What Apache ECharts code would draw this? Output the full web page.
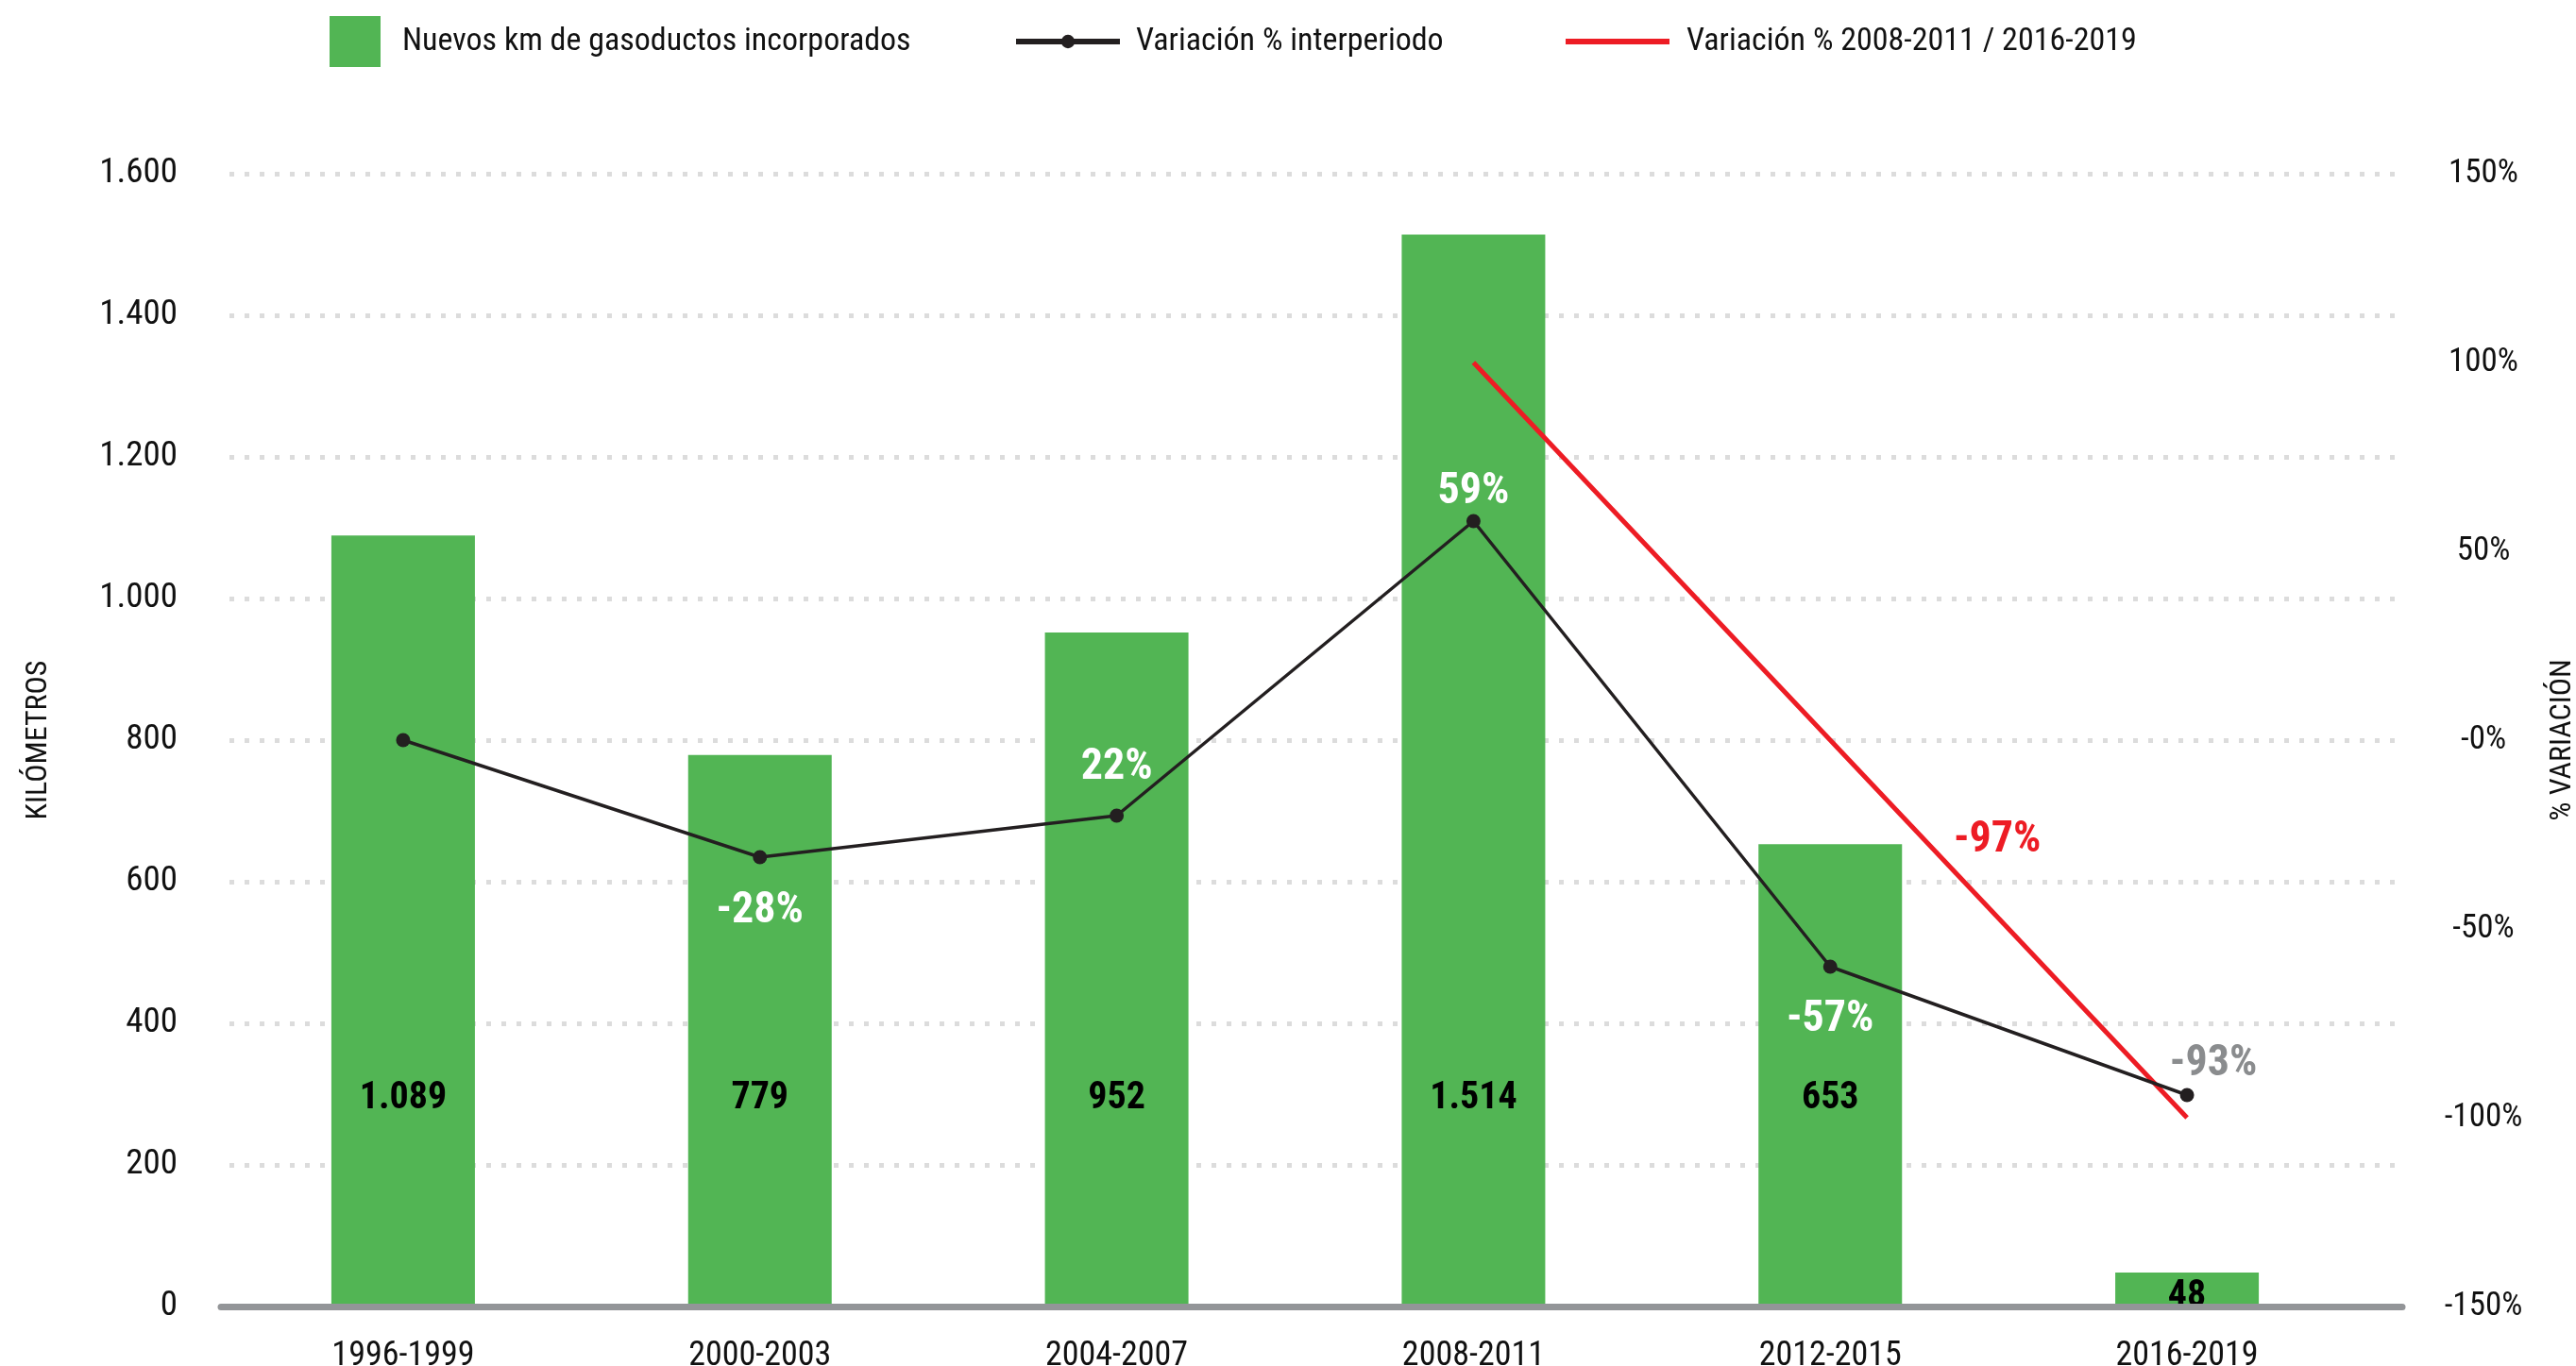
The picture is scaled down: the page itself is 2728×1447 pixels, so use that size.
<!DOCTYPE html>
<html>
<head>
<meta charset="utf-8">
<script src="https://cdn.jsdelivr.net/npm/echarts@6/dist/echarts.min.js"></script>
<style>
html,body{margin:0;padding:0;background:#fff;}
#chart{width:2728px;height:1447px;}
</style>
</head>
<body>
<div id="chart"></div>
<script>
// ---- data ----
const categories = ['1996-1999', '2000-2003', '2004-2007', '2008-2011', '2012-2015', '2016-2019'];
const kmValues = [1089, 779, 952, 1514, 653, 48];
const variationValues = [0, -31, -20, 58, -60, -94];
const variationLabels = ['', '-28%', '22%', '59%', '-57%', '-93%'];
const overallValues = [null, null, null, 100, null, -100];
const overallLabel = '-97%';
const seriesNames = ['Nuevos km de gasoductos incorporados', 'Variación % interperiodo', 'Variación % 2008-2011 / 2016-2019'];
const axisTitles = ['KILÓMETROS', '% VARIACIÓN'];

// ---- styles ----
const FONT = "'Roboto Condensed', 'Liberation Sans Narrow', 'Arial Narrow', 'DejaVu Sans Condensed', Roboto, sans-serif";
const GREEN = '#52b554', BLACK = '#231f20', RED = '#ed1c24', GREY_AXIS = '#939598', GRID = '#dcdcdc';
// per-point label placement for the variation line: [position, distance, offsetX, offsetY, color]
const varLabelPlace = [
  ['top', 10, 0, 0, '#fff'],
  ['bottom', 27, 0, 0, '#fff'],
  ['top', 20, 0, 0, '#fff'],
  ['top', 0, 0, 0, '#fff'],
  ['bottom', 26, 0, 0, '#fff'],
  ['top', 2, 28, 0, '#8a8c8e']
];

function fmtThousands(v) {
  return String(v).replace(/\B(?=(\d{3})+(?!\d))/g, '.');
}

const barData = kmValues.map(function (v) {
  const small = v < 200;
  return {
    value: v,
    label: small ? { position: 'inside', offset: [0, 8] } : { position: 'insideBottom', distance: 200 }
  };
});

const lineData = variationValues.map(function (v, i) {
  const p = varLabelPlace[i];
  return {
    value: v,
    label: {
      show: variationLabels[i] !== '',
      position: p[0],
      distance: p[1],
      offset: [p[2], p[3]],
      color: p[4],
      formatter: variationLabels[i]
    }
  };
});

const chart = echarts.init(document.getElementById('chart'), null, { renderer: 'canvas' });

const option = {
  backgroundColor: '#fff',
  animation: false,
  textStyle: { fontFamily: FONT },
  legend: [
    {
      data: [{ name: seriesNames[0], icon: 'rect' }], left: 349, top: 17, padding: 0,
      itemWidth: 54, itemHeight: 54,
      textStyle: { fontFamily: FONT, fontSize: 34, color: '#111', padding: [0, 0, 0, 18] }
    },
    {
      data: [{ name: seriesNames[1], lineStyle: { width: 6 } }], left: 1073, top: 27, padding: 0,
      itemWidth: 110, itemHeight: 18,
      textStyle: { fontFamily: FONT, fontSize: 34, color: '#111', padding: [0, 0, 0, 12] }
    },
    {
      data: [{ name: seriesNames[2], lineStyle: { width: 6 }, itemStyle: { opacity: 0 } }], left: 1655, top: 27, padding: 0,
      itemWidth: 110, itemHeight: 18,
      textStyle: { fontFamily: FONT, fontSize: 34, color: '#111', padding: [0, 0, 0, 13] }
    }
  ],
  grid: [
    { left: 234, right: 184, top: 184, bottom: 63, outerBoundsMode: 'none', containLabel: false },
    { left: 238, right: 223, top: 184, bottom: 63, outerBoundsMode: 'none', containLabel: false }
  ],
  xAxis: [
    {
      gridIndex: 0, type: 'category', data: categories, z: 10,
      axisLine: { lineStyle: { color: GREY_AXIS, width: 7 } },
      axisTick: { show: false }, axisLabel: { show: false }, splitLine: { show: false }
    },
    {
      gridIndex: 1, type: 'category', data: categories,
      axisLine: { show: false }, axisTick: { show: false },
      axisLabel: { margin: 35, fontFamily: FONT, fontSize: 36, color: '#111' }
    }
  ],
  yAxis: [
    {
      gridIndex: 0, type: 'value', min: 0, max: 1600, interval: 200,
      axisLabel: { show: false }, axisLine: { show: false }, axisTick: { show: false },
      splitLine: { show: true, lineStyle: { color: GRID, width: 5, type: [5, 11], dashOffset: 7 } }
    },
    {
      gridIndex: 1, type: 'value', min: 0, max: 1600, interval: 200, position: 'left',
      axisLine: { show: false }, axisTick: { show: false }, splitLine: { show: false },
      axisLabel: { margin: 50, fontFamily: FONT, fontSize: 37, color: '#111', formatter: fmtThousands },
      name: axisTitles[0], nameLocation: 'middle', nameRotate: 90, nameGap: 181,
      nameTextStyle: { fontFamily: FONT, fontSize: 32, color: '#111' }
    },
    {
      gridIndex: 1, type: 'value', min: -150, max: 150, interval: 50, position: 'right',
      axisLine: { show: false }, axisTick: { show: false }, splitLine: { show: false },
      axisLabel: {
        margin: 125, align: 'center', fontFamily: FONT, fontSize: 35, color: '#111',
        formatter: function (v) { return (v === 0 ? '-0' : v) + '%'; }
      },
      name: axisTitles[1], nameLocation: 'middle', nameRotate: 90, nameGap: 193,
      nameTextStyle: { fontFamily: FONT, fontSize: 32, color: '#111' }
    }
  ],
  series: [
    {
      name: seriesNames[0], type: 'bar', xAxisIndex: 1, yAxisIndex: 1,
      barWidth: 152, itemStyle: { color: GREEN }, z: 2,
      label: {
        show: true, fontFamily: FONT, fontSize: 40, fontWeight: 'bold', color: '#000',
        formatter: function (p) { return fmtThousands(p.value); }
      },
      data: barData
    },
    {
      name: seriesNames[1], type: 'line', xAxisIndex: 1, yAxisIndex: 2, z: 5,
      symbol: 'circle', symbolSize: 15,
      itemStyle: { color: BLACK }, lineStyle: { color: BLACK, width: 3.5 },
      label: { show: true, fontFamily: FONT, fontSize: 46, fontWeight: 'bold' },
      data: lineData
    },
    {
      name: seriesNames[2], type: 'line', xAxisIndex: 1, yAxisIndex: 2, z: 4,
      symbol: 'none', connectNulls: true,
      itemStyle: { color: RED }, lineStyle: { color: RED, width: 5 },
      data: overallValues
    }
  ]
};

chart.setOption(option);

// label for the overall red line, placed relative to the line's midpoint
const idx = overallValues.map(function (v, i) { return v === null ? -1 : i; }).filter(function (i) { return i >= 0; });
const pA = chart.convertToPixel({ xAxisIndex: 1, yAxisIndex: 2 }, [idx[0], overallValues[idx[0]]]);
const pB = chart.convertToPixel({ xAxisIndex: 1, yAxisIndex: 2 }, [idx[idx.length - 1], overallValues[idx[idx.length - 1]]]);
const mid = [(pA[0] + pB[0]) / 2, (pA[1] + pB[1]) / 2];
chart.setOption({
  graphic: [{
    type: 'text', x: mid[0] + 177, y: mid[1] + 106, z: 20,
    style: {
      text: overallLabel, fill: RED, font: 'bold 46px ' + FONT,
      align: 'center', verticalAlign: 'middle'
    }
  }]
});
</script>
</body>
</html>
